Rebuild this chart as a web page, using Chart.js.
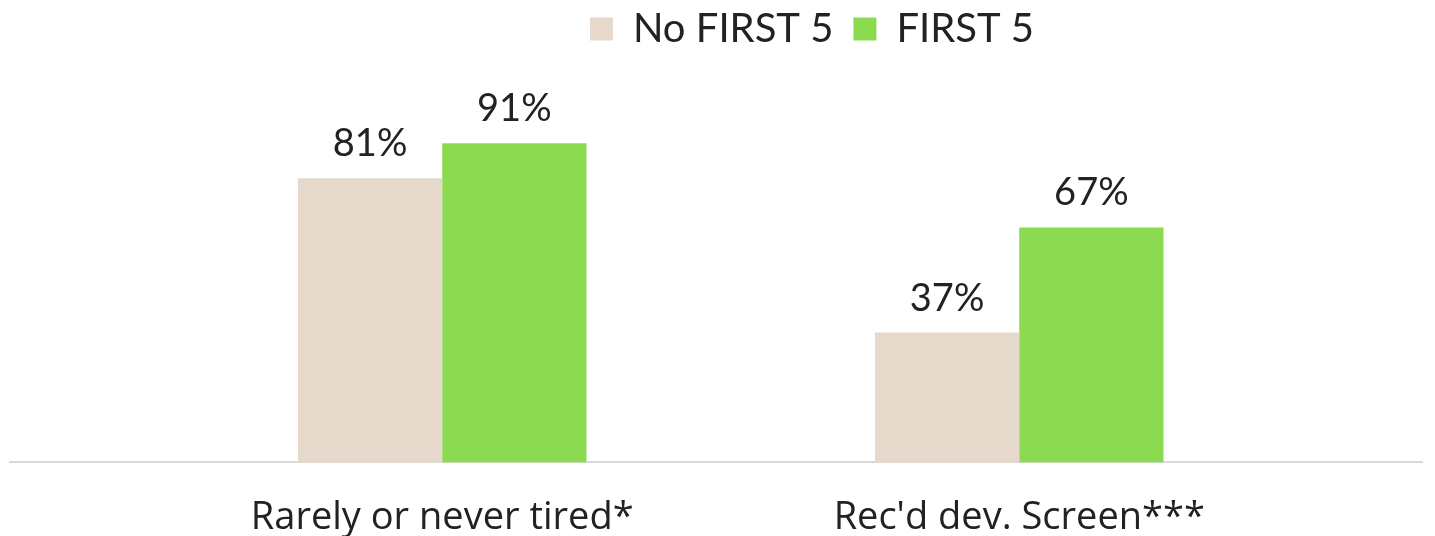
<!DOCTYPE html>
<html>
<head>
<meta charset="utf-8">
<script src="https://cdn.jsdelivr.net/npm/chart.js@4"></script>
<style>
  html, body { margin: 0; padding: 0; background: #fff; }
  #wrap { width: 1435px; height: 536px; }
</style>
</head>
<body>
<div id="wrap"><canvas id="c" width="1435" height="536"></canvas></div>
<script>
const categories = ['Rarely or never tired*', "Rec'd dev. Screen***"];
const seriesNames = ['No FIRST 5', 'FIRST 5'];
const noFirst5 = [81, 37];
const first5 = [91, 67];

const FONT = 'Lato, "Open Sans", sans-serif';
const AXIS_FONT = '"Open Sans", Lato, sans-serif';
const TEXT = '#222222';

const toPoints = arr => arr.map((v, i) => ({ x: i, y: v }));

const valueLabels = {
  id: 'valueLabels',
  afterDatasetsDraw(chart) {
    const ctx = chart.ctx;
    ctx.save();
    ctx.font = '38px ' + FONT;
    ctx.fillStyle = TEXT;
    ctx.textAlign = 'center';
    ctx.textBaseline = 'alphabetic';
    chart.data.datasets.forEach((ds, i) => {
      const meta = chart.getDatasetMeta(i);
      meta.data.forEach((bar, j) => {
        ctx.fillText(ds.data[j].y + '%', bar.x, bar.y - 22);
      });
    });
    ctx.restore();
  }
};

const legendShift = {
  id: 'legendShift',
  afterLayout(chart) {
    const lg = chart.legend;
    if (lg) { lg.left += 96; lg.right += 96; }
  }
};

new Chart(document.getElementById('c'), {
  type: 'bar',
  data: {
    datasets: [
      { label: seriesNames[0], data: toPoints(noFirst5), backgroundColor: '#E6D9CC', borderWidth: 0 },
      { label: seriesNames[1], data: toPoints(first5), backgroundColor: '#8BDA4F', borderWidth: 0 }
    ]
  },
  plugins: [valueLabels, legendShift],
  options: {
    responsive: false,
    animation: false,
    devicePixelRatio: 1,
    layout: { padding: { left: 10, right: 13, top: -11, bottom: -30 } },
    datasets: { bar: { categoryPercentage: 0.5, barPercentage: 1.0 } },
    plugins: {
      legend: {
        position: 'top',
        labels: {
          boxWidth: 23, boxHeight: 23, color: TEXT,
          font: { family: FONT, size: 40 }, padding: 20
        }
      },
      tooltip: { enabled: false }
    },
    scales: {
      x: {
        type: 'linear',
        offset: false,
        bounds: 'data',
        min: -0.749, max: 1.698,
        grid: { display: false, offset: false },
        border: { display: true, color: '#D9D9D9', width: 2 },
        afterBuildTicks: s => { s.ticks = categories.map((_, i) => ({ value: i })); },
        ticks: {
          autoSkip: false, maxRotation: 0,
          color: TEXT, font: { family: AXIS_FONT, size: 38 }, padding: 25,
          callback: v => categories[v] ?? ''
        }
      },
      y: {
        display: false,
        min: 0, max: 115
      }
    }
  }
});
</script>
</body>
</html>
